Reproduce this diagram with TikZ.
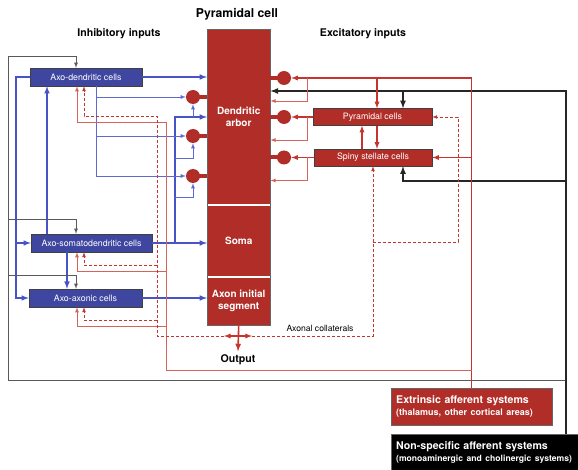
\documentclass[tikz,border=0pt]{standalone}
\usepackage{fontspec}
\setmainfont{TeX Gyre Heros}
\usepackage{tikz}
\usetikzlibrary{calc}
\definecolor{pyrred}{RGB}{176,45,40}
\definecolor{inhfill}{RGB}{62,70,160}
\definecolor{inhblue}{RGB}{70,84,200}
\definecolor{inhlight}{RGB}{95,105,210}
\definecolor{excred}{RGB}{198,52,46}
\definecolor{exclight}{RGB}{214,98,92}
\tikzset{
 >=latex,
 head/.style={font=\bfseries\fontsize{10.6}{12}\selectfont},
 cellbox/.style={draw=black!75,text=white,inner sep=0pt,minimum height=18pt,font=\fontsize{8.8}{10}\selectfont},
 inhbox/.style={cellbox,fill=inhfill},
 excbox/.style={cellbox,fill=pyrred,minimum height=17pt},
 part/.style={fill=pyrred,anchor=north west,minimum width=63pt,inner sep=0pt,text=white,align=center,font=\bfseries\fontsize{10}{12}\selectfont},
 syn/.style={circle,fill=pyrred,inner sep=0pt,minimum size=14pt},
 stem/.style={pyrred,line width=4pt},
 afbox/.style={anchor=north west,draw=black!60,text=white,inner xsep=5pt,inner ysep=0pt,align=left,font=\bfseries\fontsize{10.6}{13}\selectfont},
 inh/.style={draw=inhblue,line width=1.5pt,->},
 inhthin/.style={draw=inhlight,line width=0.8pt,->},
 exc/.style={draw=excred,line width=1.3pt,->},
 excthin/.style={draw=exclight,line width=0.8pt,->},
 coll/.style={draw=excred,line width=0.7pt,dash pattern=on 3pt off 2pt,->},
 nsp/.style={draw=black!85,line width=1.6pt,->},
 nspthin/.style={draw=black!65,line width=0.8pt,->}
}
\begin{document}
\begin{tikzpicture}[x=1pt,y=-1pt]
\useasboundingbox (0,0) rectangle (578,470);
\node[font=\bfseries\fontsize{12.2}{14}\selectfont] (ttl) at (237,14) {Pyramidal cell};
\node[head] (inhttl) at (119,34) {Inhibitory inputs};
\node[head] (excttl) at (363,34) {Excitatory inputs};

\node[part,minimum height=176pt] (dend) at (207,29) {Dendritic\\arbor};
\node[part,minimum height=72pt] (soma) at (207,205) {Soma};
\node[part,minimum height=48pt] (ais) at (207,277) {Axon initial\\segment};
\draw[white,line width=1.2pt] (soma.north west) -- (soma.north east);
\draw[white,line width=1.2pt] (ais.north west) -- (ais.north east);
\draw[black!60] (dend.north west) rectangle (ais.south east);

\foreach \n/\y in {1/97,2/136,3/176} {
\node[syn] (sl\n) at (193,\y) {};
\draw[stem] (sl\n.center) -- (sl\n -| dend.west);
}
\foreach \n/\y in {1/78,2/117,3/157.5} {
\node[syn] (sr\n) at (284,\y) {};
\draw[stem] (sr\n.center) -- (sr\n -| dend.east);
}

\node[inhbox,minimum width=112pt] (adc) at (86,77) {Axo-dendritic cells};
\node[inhbox,minimum width=121pt] (asc) at (91.5,243) {Axo-somatodendritic cells};
\node[inhbox,minimum width=113pt] (aac) at (85.5,298) {Axo-axonic cells};
\node[excbox,minimum width=119pt] (pc) at (372.5,117) {Pyramidal cells};
\node[excbox,minimum width=118pt] (ssc) at (373,157.5) {Spiny stellate cells};
\node[afbox,fill=pyrred,text width=151pt,minimum height=37pt] (eas) at (391,388)
 {Extrinsic afferent systems\\[-1pt]{\fontsize{9}{10}\selectfont (thalamus, other cortical areas)}};
\node[afbox,fill=black,text width=177pt,minimum height=36pt] (nsa) at (391,434)
 {Non-specific afferent systems\\[-1pt]{\fontsize{8.6}{10}\selectfont (monoaminergic and cholinergic systems)}};
\node[font=\bfseries\fontsize{10.6}{12}\selectfont] (out) at (238,360) {Output};
\node[font=\fontsize{8.6}{10}\selectfont] (acl) at (320,328) {Axonal collaterals};

\coordinate (lx) at (16,0);
\coordinate (bx) at (47,0);
\coordinate (cx) at (67,0);
\coordinate (gx) at (76,0);
\coordinate (rx) at (77,0);
\coordinate (dx) at (84,0);
\coordinate (ax) at (96,0);
\coordinate (bj) at (175,117);
\coordinate (sx) at (307,0);
\coordinate (qx) at (362,0);
\coordinate (cl) at (373,0);
\coordinate (px) at (377,0);
\coordinate (kx) at (403,0);
\coordinate (tx) at (458,0);
\coordinate (nx) at (566,0);
\coordinate (ny) at (0,91);
\coordinate (ey) at (0,370);
\coordinate (gy) at (0,380);
\coordinate (ac) at (238,336);

\draw[inh] (adc.east) -- (adc.east -| dend.west);
\draw[inh] (asc.east) -- (asc.east -| soma.west);
\draw[inh] (aac.east) -- (aac.east -| ais.west);
\draw[inh] (asc.east -| bj) |- (bj -| dend.west);
\draw[inhthin] (bj -| sl1) -- (sl1.south);
\draw[inhthin] (175,158) -| (sl2.south);
\draw[inhthin] (175,197) -| (sl3.south);
\draw[inhthin] (adc.south -| ax) |- (sl3.west);
\draw[inhthin] (sl1.west -| ax) -- (sl1.west);
\draw[inhthin] (sl2.west -| ax) -- (sl2.west);
\draw[inh] (adc.west) -- (adc.west -| lx) |- (aac.west);
\draw[inh] (asc.west -| lx) -- (asc.west);
\draw[inh] (asc.north -| bx) -- (adc.south -| bx);
\draw[inh] (asc.south -| cx) -- (aac.north -| cx);

\draw[nspthin] (gy -| nx) -- (8,380) -- (8,56) -| (adc.north -| gx);
\draw[nspthin] (8,219) -| (asc.north -| gx);
\draw[nspthin] (8,275) -| (aac.north -| gx);
\draw[nsp] (nsa.north -| nx) |- (ny -| dend.east);
\draw[nsp] (ny -| kx) -- (pc.north -| kx);
\draw[nsp] (566,181) -| (ssc.south -| kx);

\draw[exc] (eas.north) |- (sr1.east);
\draw[exc] (sr1 -| px) -- (pc.north -| px);
\draw[exc] (ssc.east -| eas.north) -- (ssc.east);
\draw[exc] (pc.west) -- (sr2.east);
\draw[exc] (ssc.west) -- (sr3.east);
\draw[exc] (pc.south -| px) -- (ssc.north -| px);
\draw[exc] (ssc.north -| qx) -- (pc.south -| qx);
\foreach \n in {1,2,3}
\draw[excthin] (sr\n -| sx) |- ($(sr\n -| dend.east)+(0,23)$);
\draw[excthin] (ey -| eas.north) -| (166,122) -| (adc.south -| rx);
\draw[excthin] (166,271) -| (asc.south -| rx);
\draw[excthin] (166,326) -| (aac.south -| rx);

\draw[exc,line width=1.6pt] (ais.south) -- (out.north);
\draw[exc,<->] ($(ac)+(-14,0)$) -- ($(ac)+(14,0)$);
\draw[coll] ($(ac)+(-14,0)$) -| (157,116) -| (adc.south -| dx);
\draw[coll] (157,265) -| (asc.south -| dx);
\draw[coll] (157,320) -| (aac.south -| dx);
\draw[coll] ($(ac)+(14,0)$) -| (ssc.south -| cl);
\draw[coll] (373,242) -| (pc.east -| tx) -- (pc.east);
\end{tikzpicture}
\end{document}
